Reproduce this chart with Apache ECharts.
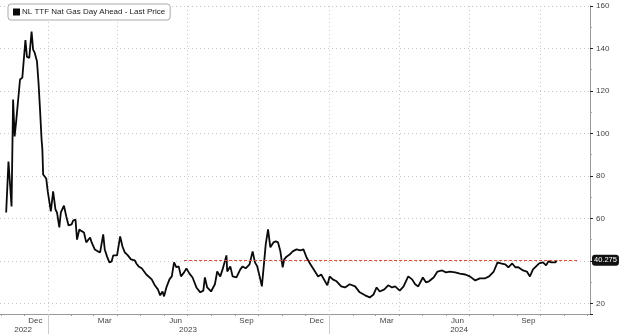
<!DOCTYPE html>
<html>
<head>
<meta charset="utf-8">
<script src="https://cdn.jsdelivr.net/npm/echarts@6/dist/echarts.min.js"></script>
<style>
html,body{margin:0;padding:0;background:#fff;}
#chart{width:620px;height:334px;}
</style>
</head>
<body>
<div id="chart"></div>
<script>
// ---- data ----
const seriesName = 'NL TTF Nat Gas Day Ahead - Last Price';
const axisStart = '2022-10-31';
const axisEnd = '2024-12-05';

const dates2022 = ['2022-11-08','2022-11-11','2022-11-15','2022-11-17','2022-11-19','2022-11-21','2022-11-24','2022-11-26','2022-11-29',
  '2022-12-03','2022-12-05','2022-12-08','2022-12-11','2022-12-13','2022-12-15','2022-12-18','2022-12-20','2022-12-22','2022-12-24','2022-12-25','2022-12-26','2022-12-27','2022-12-30'];
const values2022 = [62.8,86.8,65.6,116,98.6,105.7,117.5,125.4,126.3,
  144,136,135.6,148,139.5,138,134,124,111,97,92.5,80.7,79.8,78.8];

const dates2023 = ['2023-01-01','2023-01-03','2023-01-05','2023-01-08','2023-01-11','2023-01-13','2023-01-16','2023-01-18','2023-01-22','2023-01-25','2023-01-28',
  '2023-02-01','2023-02-03','2023-02-06','2023-02-08','2023-02-11','2023-02-14','2023-02-17','2023-02-20','2023-02-25','2023-02-27',
  '2023-03-03','2023-03-07','2023-03-10','2023-03-14','2023-03-16','2023-03-19','2023-03-22','2023-03-25','2023-03-27',
  '2023-04-01','2023-04-05','2023-04-08','2023-04-11','2023-04-15','2023-04-19','2023-04-24','2023-04-26','2023-04-29',
  '2023-05-03','2023-05-09','2023-05-16','2023-05-20','2023-05-24','2023-05-27','2023-05-30',
  '2023-06-01','2023-06-04','2023-06-08','2023-06-11','2023-06-14','2023-06-17','2023-06-20','2023-06-23','2023-06-27','2023-06-30',
  '2023-07-04','2023-07-08','2023-07-13','2023-07-18','2023-07-22','2023-07-24','2023-07-27',
  '2023-08-01','2023-08-06','2023-08-09','2023-08-13','2023-08-16','2023-08-21','2023-08-22','2023-08-26','2023-08-29',
  '2023-09-03','2023-09-08','2023-09-11','2023-09-15','2023-09-20','2023-09-24','2023-09-27','2023-09-30',
  '2023-10-04','2023-10-06','2023-10-09','2023-10-11','2023-10-14','2023-10-17','2023-10-21','2023-10-24','2023-10-27','2023-10-30',
  '2023-11-02','2023-11-04','2023-11-07','2023-11-11','2023-11-15','2023-11-20','2023-11-25','2023-11-29',
  '2023-12-03','2023-12-08','2023-12-14','2023-12-18','2023-12-22','2023-12-30'];
const values2023 = [72.7,72,63.3,72.7,64.2,62.8,55.8,62.8,66,61,56.7,
  57.2,59,59.5,50,54.8,54,53.4,48.7,51,48.7,
  45.4,44.5,44,52.5,45.4,42,39.3,39.8,42.6,
  42.6,51.5,46.8,44,42.6,40.7,40.2,38.8,37.4,
  36.5,33.6,31.3,28.5,26.6,23.8,25.6,
  23.3,27.5,31.3,32.7,39.3,37,37.4,32.7,34.6,36.5,
  34,32.2,27.5,25.2,26,32.2,27.5,
  25.6,29,35,32.7,36,42.6,35,37.4,32.7,
  32.2,36,37.4,36.5,38.4,44.5,39.3,37.4,
  31.3,28,39.8,47.8,54.8,46.4,48.7,49.2,48.7,44.5,
  37,40.7,42,43,44.5,45.4,45,45.4,
  41.6,38.4,35,32.7,33.6,28.5];

const dates2024 = ['2024-01-02','2024-01-06','2024-01-11','2024-01-17','2024-01-22','2024-01-28',
  '2024-02-04','2024-02-10','2024-02-17','2024-02-23','2024-02-28',
  '2024-03-03','2024-03-07','2024-03-13','2024-03-18','2024-03-23','2024-03-27',
  '2024-04-02','2024-04-07','2024-04-13','2024-04-18','2024-04-22','2024-04-26',
  '2024-05-02','2024-05-06','2024-05-10','2024-05-16','2024-05-21','2024-05-27',
  '2024-06-01','2024-06-06','2024-06-13','2024-06-19','2024-06-26',
  '2024-07-02','2024-07-09','2024-07-15','2024-07-22','2024-07-27',
  '2024-08-02','2024-08-07','2024-08-11','2024-08-17','2024-08-21','2024-08-26','2024-08-30',
  '2024-09-03','2024-09-09','2024-09-14','2024-09-18','2024-09-22','2024-09-26','2024-09-30',
  '2024-10-05','2024-10-09','2024-10-12','2024-10-16','2024-10-21','2024-10-23'];
const values2024 = [32.7,31.3,30.4,28,27.5,29,
  28,25.2,23.8,22.8,24.2,
  27.5,25.6,26.6,28.5,27.5,28,
  26,28,32.7,31.3,29,28,
  32.2,29.9,30.4,32.2,35,35.5,
  34.6,35,34.6,34,33.6,
  32.7,30.8,31.8,31.8,32.7,
  35,39.3,38.8,38.4,37,38.8,37,
  37,35.5,35,32.7,36,37.4,38.8,
  39.3,37.9,39.8,39.3,39.3,40.275];

const lastPrice = 40.275;
const refLineStart = '2023-06-27';
const refLineEnd = '2024-11-19';
const monthNames = ['Jan','Feb','Mar','Apr','May','Jun','Jul','Aug','Sep','Oct','Nov','Dec'];
const labelMonths = [12, 3, 6, 9];
const gridMonths = [1, 4, 7, 10];
const yMin = 15, yMax = 160;

// ---- build axis categories (every calendar day) ----
function fmt(d){ return d.toISOString().slice(0,10); }
const categories = [];
for (let t = Date.parse(axisStart + 'T00:00:00Z'); t <= Date.parse(axisEnd + 'T00:00:00Z'); t += 86400000) {
  categories.push(fmt(new Date(t)));
}
const allDates = dates2022.concat(dates2023, dates2024);
const allValues = values2022.concat(values2023, values2024);
const lineData = allDates.map((d, i) => [categories.indexOf(d), allValues[i]]);

// year label anchors: centre of each year's visible span
const yearAnchor = {};
const years = [...new Set(categories.map(c => c.slice(0,4)))];
years.forEach(y => {
  const idx = categories.map((c,i)=>c.slice(0,4)===y?i:-1).filter(i=>i>=0);
  yearAnchor[Math.floor((idx[0]+idx[idx.length-1])/2)] = y;
});

const mon = c => +c.slice(5,7);
const day = c => +c.slice(8,10);
const font = 'Liberation Sans';

const chart = echarts.init(document.getElementById('chart'), null, {renderer:'canvas'});
chart.setOption({
  animation: false,
  backgroundColor: '#fff',
  textStyle: {fontFamily: font},
  grid: {left: 0, right: 30, top: 6, bottom: 20, containLabel: false},
  legend: {
    show: true, left: 8, top: 4,
    data: [{name: seriesName, icon: 'rect'}],
    itemWidth: 7, itemHeight: 7, itemGap: 0,
    padding: [4, 5, 4, 5],
    borderColor: '#aaa', borderWidth: 1, borderRadius: 3,
    backgroundColor: '#fff',
    textStyle: {fontSize: 8, color: '#222', fontFamily: font, padding: [0,0,0,-3]}
  },
  xAxis: [{
    type: 'category', data: categories, boundaryGap: false,
    axisLine: {show: true, lineStyle: {color: '#999', width: 1}},
    axisTick: {show: true, length: 2, inside: false, lineStyle: {color: '#999'},
      interval: (i, c) => day(c) === 1},
    axisLabel: {show: true, fontSize: 8, color: '#444', margin: 3,
      interval: (i, c) => day(c) === 16 && labelMonths.includes(mon(c)),
      formatter: c => monthNames[mon(c)-1]},
    splitLine: {show: true, lineStyle: {color: '#c8c8c8', type: [1,3], width: 1},
      interval: (i, c) => day(c) === 1 && gridMonths.includes(mon(c))}
  }, {
    type: 'category', data: categories, boundaryGap: false, position: 'bottom',
    axisLine: {show: false},
    axisTick: {show: true, length: 20, inside: false, lineStyle: {color: '#ccc'},
      interval: (i, c) => c.slice(5) === '01-01'},
    axisLabel: {show: true, fontSize: 8, color: '#444', margin: 12,
      interval: (i) => yearAnchor[i] !== undefined,
      formatter: (c) => c.slice(0,4)},
    splitLine: {show: false}
  }],
  yAxis: {
    type: 'value', position: 'right', min: yMin, max: yMax, splitNumber: 7,
    axisLine: {show: true, lineStyle: {color: '#999'}},
    axisTick: {show: true, length: 3, lineStyle: {color: '#222'}},
    minorTick: {show: true, splitNumber: 2, length: 2, lineStyle: {color: '#aaa'}},
    axisLabel: {show: true, fontSize: 8, color: '#444', margin: 6, showMinLabel: false},
    splitLine: {show: true, lineStyle: {color: '#c8c8c8', type: [1,3], width: 1}}
  },
  series: [{
    name: seriesName, type: 'line', xAxisIndex: 0,
    data: lineData, showSymbol: false, symbol: 'none',
    lineStyle: {color: '#0a0a0a', width: 1.8}, itemStyle: {color: '#0a0a0a'},
    markLine: {
      silent: true, symbol: ['none','none'],
      data: [
        [{coord: [categories.indexOf(refLineStart), lastPrice]}, {coord: [categories.indexOf(refLineEnd), lastPrice]}],
        {yAxis: lastPrice, lineStyle: {color: 'rgba(0,0,0,0)', width: 0},
          label: {show: true, position: 'end', distance: 2, formatter: String(lastPrice),
            backgroundColor: '#111', color: '#fff', fontSize: 7.5, padding: [2,2,1,2], borderRadius: 3, fontFamily: font}}
      ],
      lineStyle: {color: '#e8443a', type: [3,2], width: 1},
      label: {show: false}
    }
  }]
});
</script>
</body>
</html>
